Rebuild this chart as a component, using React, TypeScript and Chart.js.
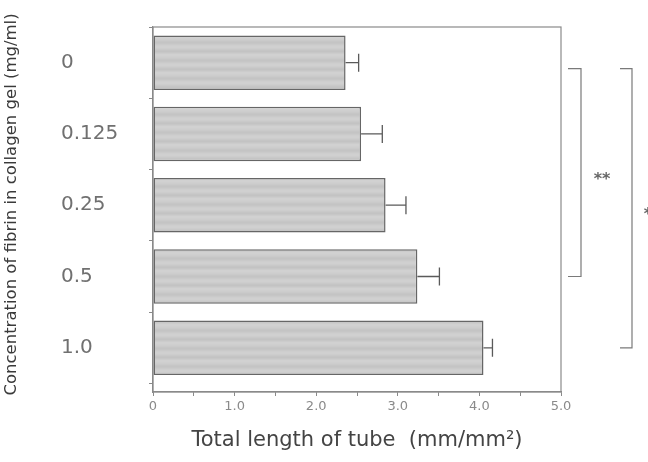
import React, { useEffect, useRef } from "react";
import { Chart, registerables } from "chart.js";

Chart.register(...registerables);

const categories = ["0", "0.125", "0.25", "0.5", "1.0"];
const values = [2.36, 2.55, 2.85, 3.24, 4.05];
const errors = [0.16, 0.26, 0.25, 0.27, 0.11];
const xMin = 0;
const xMax = 5;
const xStep = 0.5;
const bracketFrom = [0, 0];
const bracketTo = [3, 4];
const bracketLabels = ["**", "*"];
const xTitle = "Total length of tube  (mm/mm\u00B2)";
const yTitle = "Concentration of fibrin in collagen gel (mg/ml)";

const FONT = "'DejaVu Sans', 'Liberation Sans', sans-serif";
const LINE = "#8a8a8a";

function makeFill(): CanvasPattern | string {
  const c = document.createElement("canvas");
  c.width = 4;
  c.height = 18;
  const g = c.getContext("2d");
  if (!g) return "#cbcbcb";
  const rows = [
    "#d1d1d1", "#d1d1d1", "#cfcfcf", "#cdcdcd", "#cacaca", "#c6c6c6",
    "#c4c4c4", "#c6c6c6", "#cacaca", "#cecece", "#d0d0d0", "#d0d0d0",
    "#cdcdcd", "#c9c9c9", "#c5c5c5", "#c3c3c3", "#c7c7c7", "#cccccc",
  ];
  rows.forEach((col, i) => {
    g.fillStyle = col;
    g.fillRect(0, i, 4, 1);
  });
  return g.createPattern(c, "repeat") || "#cbcbcb";
}

const framePlugin = {
  id: "frame",
  afterDraw(chart: any) {
    const { ctx, chartArea: a } = chart;
    ctx.save();
    ctx.strokeStyle = LINE;
    ctx.lineWidth = 1.2;
    ctx.strokeRect(a.left, a.top, a.right - a.left, a.bottom - a.top);
    ctx.restore();
  },
};

const errorBarPlugin = {
  id: "errorBars",
  afterDatasetsDraw(chart: any) {
    const { ctx } = chart;
    const meta = chart.getDatasetMeta(0);
    const xs = chart.scales.x;
    ctx.save();
    ctx.strokeStyle = "#5a5a5a";
    ctx.lineWidth = 1.3;
    meta.data.forEach((el: any, i: number) => {
      const x0 = xs.getPixelForValue(values[i]);
      const x1 = xs.getPixelForValue(values[i] + errors[i]);
      const y = el.y;
      ctx.beginPath();
      ctx.moveTo(x0, y);
      ctx.lineTo(x1, y);
      ctx.moveTo(x1, y - 9);
      ctx.lineTo(x1, y + 9);
      ctx.stroke();
    });
    ctx.restore();
  },
};

const annotationPlugin = {
  id: "brackets",
  afterDraw(chart: any) {
    const { ctx, chartArea: a } = chart;
    const ys = chart.scales.y;
    ctx.save();
    ctx.strokeStyle = "#7a7a7a";
    ctx.lineWidth = 1.2;
    ctx.fillStyle = "#666";
    ctx.font = `bold 16px ${FONT}`;
    ctx.textBaseline = "middle";
    const layouts = [
      { inner: 7, outer: 20, text: 41 },
      { inner: 59, outer: 71, text: 87 },
    ];
    bracketFrom.forEach((f, i) => {
      const yTop = ys.getPixelForValue(f) + 6;
      const yBot = ys.getPixelForValue(bracketTo[i]);
      const L = layouts[i];
      const xi = a.right + L.inner;
      const xo = a.right + L.outer;
      ctx.beginPath();
      ctx.moveTo(xi, yTop);
      ctx.lineTo(xo, yTop);
      ctx.lineTo(xo, yBot);
      ctx.lineTo(xi, yBot);
      ctx.stroke();
      ctx.textAlign = "center";
      ctx.fillText(bracketLabels[i], a.right + L.text, (yTop + yBot) / 2 + 7);
    });
    // y axis title
    ctx.save();
    ctx.fillStyle = "#3a3a3a";
    ctx.font = `16.5px ${FONT}`;
    ctx.textAlign = "center";
    ctx.textBaseline = "middle";
    ctx.translate(12, (a.top + a.bottom) / 2 - 5);
    ctx.rotate(-Math.PI / 2);
    ctx.fillText(yTitle, 0, 0);
    ctx.restore();
    ctx.restore();
  },
};

export default function App() {
  const ref = useRef<HTMLCanvasElement>(null);
  useEffect(() => {
    if (!ref.current) return;
    const chart = new Chart(ref.current, {
      type: "bar",
      data: {
        datasets: [
          {
            data: values.map((v, i) => ({ x: v, y: i })),
            backgroundColor: makeFill(),
            borderColor: "#666666",
            borderWidth: 1.5,
            borderSkipped: false,
            categoryPercentage: 1,
            barPercentage: 0.765,
          },
        ],
      },
      options: {
        indexAxis: "y",
        animation: false,
        responsive: false,
        layout: { padding: { left: 61, right: 87, top: 27, bottom: 0 } },
        plugins: { legend: { display: false }, tooltip: { enabled: false } },
        scales: {
          x: {
            type: "linear",
            position: "bottom",
            min: xMin,
            max: xMax,
            offset: false,
            afterFit: (s: any) => {
              s.height = 70;
            },
            border: { display: true, color: LINE, width: 1.2 },
            grid: { drawOnChartArea: false, tickLength: 4, color: LINE },
            ticks: {
              stepSize: xStep,
              autoSkip: false,
              maxRotation: 0,
              padding: 3,
              color: "#8a8a8a",
              font: { family: FONT, size: 13 },
              callback: (v: any) =>
                Number.isInteger(v) ? (v === 0 ? "0" : Number(v).toFixed(1)) : "",
            },
            title: {
              display: true,
              text: xTitle,
              color: "#444",
              font: { family: FONT, size: 21, lineHeight: 1.2 },
              padding: { top: 0, bottom: 9 },
            },
          },
          y: {
            type: "linear",
            reverse: true,
            offset: false,
            min: -0.5,
            max: 4.62,
            afterFit: (s: any) => {
              s.width = 92;
            },
            afterBuildTicks: (s: any) => {
              s.ticks = categories.map((_, i) => ({ value: i }));
            },
            border: { display: true, color: LINE, width: 1.2 },
            grid: { drawOnChartArea: false, offset: true, tickLength: 4, color: LINE },
            ticks: {
              crossAlign: "far",
              color: "#707070",
              font: { family: FONT, size: 20 },
              callback: (v: any) => categories[v] ?? "",
            },
          },
        },
      },
      plugins: [framePlugin, errorBarPlugin, annotationPlugin],
    } as any);
    return () => chart.destroy();
  }, []);
  return (
    <div style={{ position: "fixed", left: 0, top: 0, width: 648, height: 462, background: "#fff" }}>
      <canvas ref={ref} width={648} height={462} style={{ display: "block" }} />
    </div>
  );
}
